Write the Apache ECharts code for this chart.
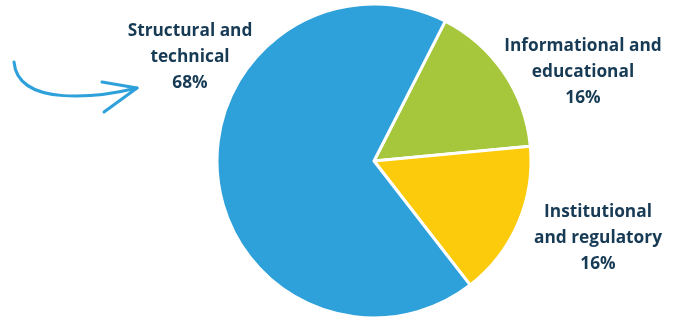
<!DOCTYPE html>
<html>
<head>
<meta charset="utf-8">
<script src="https://cdn.jsdelivr.net/npm/echarts@6/dist/echarts.min.js"></script>
<style>
  html, body { margin: 0; padding: 0; background: #fff; }
  #chart { width: 676px; height: 320px; }
</style>
</head>
<body>
<div id="chart"></div>
<script>
// categories and shares (percent)
var categories = ['Informational and\neducational', 'Institutional\nand regulatory', 'Structural and\ntechnical'];
var shares = [16, 16, 68];
var colors = ['#a6c63b', '#fccb0b', '#2ea0da'];

// label anchor points (layout only)
var labelPos = [[583, 72], [598, 238], [190, 57]];

var chart = echarts.init(document.getElementById('chart'), null, { renderer: 'canvas' });
chart.setOption({
  animation: false,
  series: [{
    type: 'pie',
    center: [374, 161],
    radius: 157,
    startAngle: 63,
    clockwise: true,
    data: categories.map(function(c, i) {
      return { name: c, value: shares[i], itemStyle: { color: colors[i] } };
    }),
    itemStyle: { borderColor: '#fff', borderWidth: 3 },
    label: {
      show: true,
      formatter: function(p) { return p.name + '\n' + shares[p.dataIndex] + '%'; },
      color: '#173a55',
      fontFamily: 'Open Sans',
      fontWeight: 'bold',
      fontSize: 17.3,
      lineHeight: 26,
      align: 'center',
      overflow: 'none'
    },
    labelLine: { show: false },
    labelLayout: function(params) {
      var p = labelPos[params.dataIndex];
      return { x: p[0], y: p[1], align: 'center', verticalAlign: 'middle' };
    }
  }],
  graphic: [{
    type: 'bezierCurve',
    shape: { x1: 14, y1: 62, cpx1: 18, cpy1: 108, cpx2: 100, cpy2: 97, x2: 137, y2: 88 },
    style: { stroke: '#2ea0da', lineWidth: 3, fill: null, lineCap: 'round' }
  }, {
    type: 'polyline',
    shape: { points: [[102, 82], [137, 88], [104, 112]] },
    style: { stroke: '#2ea0da', lineWidth: 3, fill: null, lineCap: 'round', lineJoin: 'round' }
  }]
});
</script>
</body>
</html>
